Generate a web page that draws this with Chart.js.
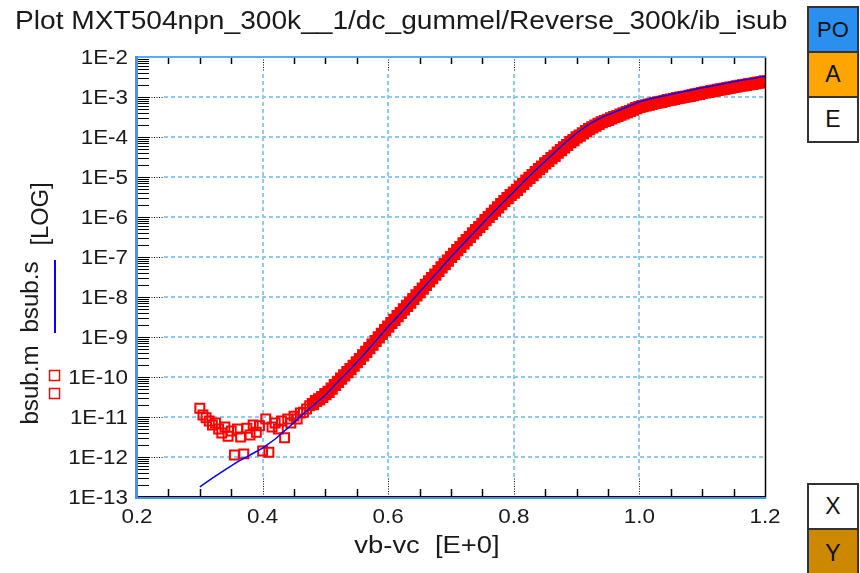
<!DOCTYPE html>
<html>
<head>
<meta charset="utf-8">
<script src="https://cdn.jsdelivr.net/npm/chart.js@4.4.1/dist/chart.umd.min.js"></script>
<style>
html,body{margin:0;padding:0;background:#fff;}
#wrap{position:relative;width:860px;height:573px;overflow:hidden;background:#fff;}
#c{position:absolute;left:0;top:0;}
.btn{position:absolute;left:807px;width:52px;box-sizing:border-box;border:2px solid #333;
 font-family:"Liberation Sans",Arial,sans-serif;font-size:23px;color:#111;
 display:flex;align-items:center;justify-content:center;}
</style>
</head>
<body>
<div id="wrap">
<canvas id="c" width="860" height="573"></canvas>
<div class="btn" style="top:6px;height:47px;background:#2b8ff0;font-size:22px;">PO</div>
<div class="btn" style="top:51px;height:47px;background:#ffa500;">A</div>
<div class="btn" style="top:96px;height:47px;background:#ffffff;">E</div>
<div class="btn" style="top:483px;height:47px;background:#ffffff;">X</div>
<div class="btn" style="top:528px;height:50px;background:#cc8800;">Y</div>
</div>
<script>
// ---------------- data ----------------
const chartTitle = 'Plot MXT504npn_300k__1/dc_gummel/Reverse_300k/ib_isub';
const xTitle = 'vb-vc  [E+0]';
const yTitleMeas = 'bsub.m';
const yTitleSim = 'bsub.s';
const yTitleUnit = '[LOG]';

const xTickValues = [0.2, 0.4, 0.6, 0.8, 1.0, 1.2];
const xTickLabels = ['0.2', '0.4', '0.6', '0.8', '1.0', '1.2'];
const yTickValues = [1e-13, 1e-12, 1e-11, 1e-10, 1e-9, 1e-8, 1e-7, 1e-6, 1e-5, 1e-4, 1e-3, 1e-2];
const yTickLabels = ['1E-13', '1E-12', '1E-11', '1E-10', '1E-9', '1E-8', '1E-7', '1E-6', '1E-5', '1E-4', '1E-3', '1E-2'];

// simulated (bsub.s)
const simV = [0.30,0.32,0.34,0.36,0.38,0.40,0.42,0.44,0.46,0.48,
              0.50,0.52,0.54,0.56,0.58,0.60,0.62,0.64,0.66,0.68,
              0.70,0.72,0.74,0.76,0.78,0.80,0.82,0.84,0.86,0.88,
              0.90,0.92,0.94,0.96,0.98,1.00,1.02,1.04,1.06,1.08,
              1.10,1.12,1.14,1.16,1.18,1.20];
const simI = [1.78e-13,2.95e-13,4.79e-13,7.59e-13,1.12e-12,1.66e-12,2.82e-12,5.25e-12,1.02e-11,1.91e-11,
              3.55e-11,7.59e-11,1.58e-10,3.47e-10,7.94e-10,1.82e-9,3.98e-9,8.91e-9,2.00e-8,4.47e-8,
              1.00e-7,2.19e-7,4.68e-7,1.00e-6,2.09e-6,4.27e-6,8.91e-6,1.78e-5,3.47e-5,6.76e-5,
              1.26e-4,2.09e-4,3.09e-4,4.17e-4,5.62e-4,7.59e-4,9.12e-4,1.07e-3,1.26e-3,1.45e-3,
              1.70e-3,1.95e-3,2.24e-3,2.57e-3,2.88e-3,3.31e-3];

// measured (bsub.m)
const measV = [0.300,0.305,0.310,0.315,0.320,0.325,0.330,0.335,0.340,0.345,
               0.350,0.355,0.360,0.365,0.370,0.375,0.380,0.385,0.390,0.395,
               0.400,0.405,0.410,0.415,0.420,0.425,0.430,0.435,0.440,0.445,
               0.450,0.455,0.460,0.465,0.470,0.475,0.480,0.485,0.490,0.495,
               0.500,0.505,0.510,0.515,0.520,0.525,0.530,0.535,0.540,0.545,
               0.550,0.555,0.560,0.565,0.570,0.575,0.580,0.585,0.590,0.595,
               0.600,0.605,0.610,0.615,0.620,0.625,0.630,0.635,0.640,0.645,
               0.650,0.655,0.660,0.665,0.670,0.675,0.680,0.685,0.690,0.695,
               0.700,0.705,0.710,0.715,0.720,0.725,0.730,0.735,0.740,0.745,
               0.750,0.755,0.760,0.765,0.770,0.775,0.780,0.785,0.790,0.795,
               0.800,0.805,0.810,0.815,0.820,0.825,0.830,0.835,0.840,0.845,
               0.850,0.855,0.860,0.865,0.870,0.875,0.880,0.885,0.890,0.895,
               0.900,0.905,0.910,0.915,0.920,0.925,0.930,0.935,0.940,0.945,
               0.950,0.955,0.960,0.965,0.970,0.975,0.980,0.985,0.990,0.995,
               1.000,1.005,1.010,1.015,1.020,1.025,1.030,1.035,1.040,1.045,
               1.050,1.055,1.060,1.065,1.070,1.075,1.080,1.085,1.090,1.095,
               1.100,1.105,1.110,1.115,1.120,1.125,1.130,1.135,1.140,1.145,
               1.150,1.155,1.160,1.165,1.170,1.175,1.180,1.185,1.190,1.195,
               1.200];
const measI = [1.66e-11,1.12e-11,9.55e-12,7.94e-12,6.31e-12,7.08e-12,5.01e-12,3.98e-12,5.62e-12,3.31e-12,
               4.47e-12,1.12e-12,5.01e-12,3.16e-12,1.20e-12,5.25e-12,3.55e-12,6.31e-12,4.17e-12,6.03e-12,
               1.41e-12,8.91e-12,1.32e-12,5.62e-12,7.08e-12,5.01e-12,7.94e-12,3.02e-12,8.91e-12,7.08e-12,
               1.05e-11,8.91e-12,1.26e-11,1.32e-11,1.58e-11,1.91e-11,2.09e-11,2.51e-11,2.75e-11,3.16e-11,
               3.72e-11,4.27e-11,5.13e-11,6.31e-11,7.59e-11,9.12e-11,1.10e-10,1.32e-10,1.58e-10,1.91e-10,
               2.34e-10,2.82e-10,3.47e-10,4.27e-10,5.25e-10,6.46e-10,7.94e-10,9.77e-10,1.20e-9,1.48e-9,
               1.82e-9,2.24e-9,2.69e-9,3.31e-9,3.98e-9,4.90e-9,6.03e-9,7.24e-9,8.91e-9,1.10e-8,
               1.32e-8,1.62e-8,2.00e-8,2.45e-8,2.95e-8,3.63e-8,4.47e-8,5.50e-8,6.61e-8,8.13e-8,
               1.00e-7,1.20e-7,1.48e-7,1.78e-7,2.19e-7,2.63e-7,3.16e-7,3.89e-7,4.68e-7,5.62e-7,
               6.76e-7,8.32e-7,1.00e-6,1.20e-6,1.45e-6,1.74e-6,2.09e-6,2.51e-6,2.95e-6,3.55e-6,
               4.07e-6,4.79e-6,5.75e-6,6.76e-6,8.13e-6,9.55e-6,1.12e-5,1.33e-5,1.58e-5,1.82e-5,
               2.19e-5,2.51e-5,2.95e-5,3.39e-5,4.07e-5,4.68e-5,5.50e-5,6.31e-5,7.41e-5,8.32e-5,
               9.77e-5,1.08e-4,1.23e-4,1.40e-4,1.58e-4,1.74e-4,1.93e-4,2.14e-4,2.34e-4,2.51e-4,
               2.69e-4,2.92e-4,3.13e-4,3.35e-4,3.63e-4,3.89e-4,4.17e-4,4.47e-4,4.84e-4,5.25e-4,
               5.62e-4,5.89e-4,6.17e-4,6.46e-4,6.76e-4,7.08e-4,7.33e-4,7.59e-4,7.94e-4,8.32e-4,
               8.61e-4,8.91e-4,9.33e-4,9.66e-4,1.00e-3,1.03e-3,1.07e-3,1.12e-3,1.16e-3,1.20e-3,
               1.26e-3,1.30e-3,1.35e-3,1.40e-3,1.45e-3,1.50e-3,1.55e-3,1.60e-3,1.66e-3,1.72e-3,
               1.78e-3,1.84e-3,1.91e-3,1.95e-3,2.02e-3,2.09e-3,2.14e-3,2.21e-3,2.29e-3,2.37e-3,
               2.45e-3];

// ---------------- drawing ----------------
const FONT = '"Liberation Sans", Arial, sans-serif';
const GRID = '#8ccbf5';
const TXT = '#1a1a1a';

function sText(ctx, txt, x, y, size, sx, align) {
  ctx.save();
  ctx.font = size + 'px ' + FONT;
  ctx.textBaseline = 'alphabetic';
  ctx.textAlign = 'left';
  ctx.fillStyle = TXT;
  const w = ctx.measureText(txt).width * sx;
  const x0 = align === 'right' ? x - w : (align === 'center' ? x - w / 2 : x);
  ctx.translate(x0, y);
  ctx.scale(sx, 1);
  ctx.fillText(txt, 0, 0);
  ctx.restore();
}
function rText(ctx, txt, cy, baseX, size, sx) {
  ctx.save();
  ctx.font = size + 'px ' + FONT;
  ctx.textBaseline = 'alphabetic';
  ctx.textAlign = 'left';
  ctx.fillStyle = TXT;
  const w = ctx.measureText(txt).width * sx;
  ctx.translate(baseX, cy + w / 2);
  ctx.rotate(-Math.PI / 2);
  ctx.scale(sx, 1);
  ctx.fillText(txt, 0, 0);
  ctx.restore();
}

const plotDeco = {
  id: 'plotDeco',
  beforeDatasetsDraw(chart) {
    const ctx = chart.ctx, a = chart.chartArea, xs = chart.scales.x, ys = chart.scales.y;
    const seg = (x1, y1, x2, y2) => { ctx.beginPath(); ctx.moveTo(x1, y1); ctx.lineTo(x2, y2); ctx.stroke(); };
    ctx.save();
    yTickValues.forEach(v => {
      const p = Math.round(ys.getPixelForValue(v));
      if (p <= a.top + 2 || p >= a.bottom - 2) return;
      ctx.setLineDash([4, 3]); ctx.lineWidth = 2; ctx.strokeStyle = GRID;
      seg(a.left + 27, p, a.right, p);
      ctx.setLineDash([1, 1.5]); ctx.lineWidth = 1; ctx.strokeStyle = '#000';
      seg(a.left + 12, p + 0.5, a.left + 27, p + 0.5);
    });
    xTickValues.forEach(v => {
      const p = Math.round(xs.getPixelForValue(v));
      if (p <= a.left + 2 || p >= a.right - 2) return;
      ctx.setLineDash([4, 3]); ctx.lineWidth = 2; ctx.strokeStyle = GRID;
      seg(p, a.bottom - 20, p, a.top + 15);
      ctx.setLineDash([1, 1.5]); ctx.lineWidth = 1; ctx.strokeStyle = '#000';
      seg(p + 0.5, a.bottom, p + 0.5, a.bottom - 20);
      seg(p + 0.5, a.top, p + 0.5, a.top + 15);
    });
    ctx.restore();
  },
  afterDatasetsDraw(chart) {
    const ctx = chart.ctx, a = chart.chartArea, xs = chart.scales.x, ys = chart.scales.y;
    const seg = (x1, y1, x2, y2) => { ctx.beginPath(); ctx.moveTo(x1, y1); ctx.lineTo(x2, y2); ctx.stroke(); };
    ctx.save();
    ctx.setLineDash([]);
    ctx.strokeStyle = '#000';
    ctx.lineWidth = 1;
    // y ticks (log, integer significands only)
    ys.ticks.forEach(t => {
      const v = t.value;
      const e = Math.floor(Math.log10(v) + 1e-9);
      const m = v / Math.pow(10, e);
      if (Math.abs(m - Math.round(m)) > 1e-6) return;
      const p = Math.round(ys.getPixelForValue(v)) + 0.5;
      seg(a.left, p, a.left + 12, p);
    });
    // x minor ticks
    ctx.lineWidth = 1.5;
    xs.ticks.forEach(t => {
      const v = t.value;
      if (xTickValues.some(m => Math.abs(m - v) < 1e-6)) return;
      const p = Math.round(xs.getPixelForValue(v)) + 0.5;
      seg(p, a.bottom, p, a.bottom - 8);
      seg(p, a.top, p, a.top + 7);
    });
    // frame
    ctx.strokeStyle = '#000'; ctx.lineWidth = 1.5;
    seg(a.right + 0.5, a.top, a.right + 0.5, a.bottom);
    ctx.strokeStyle = '#5aabff'; ctx.lineWidth = 2;
    seg(a.left, a.top, a.right + 1, a.top);
    ctx.strokeStyle = '#000'; ctx.lineWidth = 1;
    seg(a.left, a.bottom - 0.5, a.right + 1, a.bottom - 0.5);
    ctx.strokeStyle = '#3399ff'; ctx.lineWidth = 2;
    seg(a.left - 2, a.bottom + 1, a.right + 1.25, a.bottom + 1);
    ctx.lineWidth = 3;
    seg(a.left - 0.5, a.top - 1, a.left - 0.5, a.bottom + 2);
    ctx.restore();
  },
  afterDraw(chart) {
    const ctx = chart.ctx, xs = chart.scales.x, ys = chart.scales.y;
    sText(ctx, chartTitle, 15, 29, 25, 1.125, 'left');
    yTickValues.forEach((v, i) => sText(ctx, yTickLabels[i], 128, ys.getPixelForValue(v) + 6.5, 20, 1.12, 'right'));
    xTickValues.forEach((v, i) => sText(ctx, xTickLabels[i], xs.getPixelForValue(v), 523, 19.5, 1.15, 'center'));
    sText(ctx, xTitle, 427, 553, 23, 1.19, 'center');
    rText(ctx, yTitleMeas, 385, 37.5, 23, 1.05);
    rText(ctx, yTitleSim, 297, 37.5, 23, 1.05);
    rText(ctx, yTitleUnit, 214, 48, 23, 1.03);
    // legend marks
    ctx.save();
    ctx.strokeStyle = '#ff0000'; ctx.lineWidth = 1.5;
    ctx.strokeRect(49.5, 370.5, 10, 10);
    ctx.strokeRect(49.5, 388.5, 10, 10);
    ctx.strokeStyle = '#0000ff'; ctx.lineWidth = 2;
    ctx.beginPath(); ctx.moveTo(55, 260); ctx.lineTo(55, 333); ctx.stroke();
    ctx.restore();
  }
};

const simData = simV.map((v, i) => ({ x: v, y: simI[i] }));
const measData = measV.map((v, i) => ({ x: v, y: measI[i] }));

new Chart(document.getElementById('c'), {
  type: 'scatter',
  data: {
    datasets: [
      {
        label: yTitleSim,
        data: simData,
        showLine: true,
        borderColor: '#0000ff',
        borderWidth: 1.5,
        pointRadius: 0,
        pointHoverRadius: 0,
        fill: false,
        tension: 0,
        clip: 0,
        order: 0
      },
      {
        label: yTitleMeas,
        data: measData,
        showLine: false,
        pointStyle: 'rect',
        pointRadius: 6.3,
        // isolated (sparse) low-current squares keep a thin outline, dense band a heavy one
        pointBorderWidth: c => (c.raw && c.raw.y < 2e-11) ? 2 : 3.3,
        borderColor: '#ff0000',
        pointBorderColor: '#ff0000',
        pointBackgroundColor: 'rgba(255,255,255,0)',
        backgroundColor: 'rgba(255,255,255,0)',
        clip: 0,
        order: 1
      }
    ]
  },
  options: {
    responsive: false,
    devicePixelRatio: 1,
    animation: false,
    events: [],
    layout: { autoPadding: false, padding: { left: 137, right: 95, top: 57, bottom: 76 } },
    plugins: { legend: { display: false }, title: { display: false }, tooltip: { enabled: false } },
    scales: {
      x: {
        type: 'linear', min: 0.2, max: 1.2,
        ticks: { display: false, stepSize: 0.05, autoSkip: false },
        grid: { display: false, drawTicks: false },
        border: { display: false },
        afterFit(s) { s.height = 0; }
      },
      y: {
        type: 'logarithmic', min: 1e-13, max: 1e-2,
        ticks: { display: false, autoSkip: false },
        grid: { display: false, drawTicks: false },
        border: { display: false },
        afterFit(s) { s.width = 0; }
      }
    }
  },
  plugins: [plotDeco]
});
</script>
</body>
</html>
